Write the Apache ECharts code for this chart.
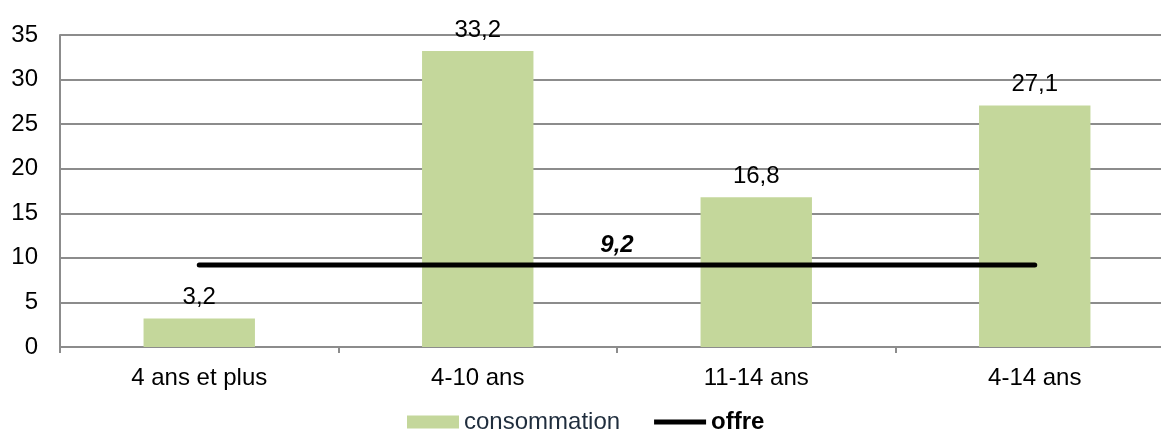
<!DOCTYPE html>
<html>
<head>
<meta charset="utf-8">
<script src="https://cdn.jsdelivr.net/npm/echarts@6/dist/echarts.min.js"></script>
<style>
  html, body { margin: 0; padding: 0; background: #fff; }
  #chart { width: 1161px; height: 431px; }
</style>
</head>
<body>
<div id="chart"></div>
<script>
var categories = ['4 ans et plus', '4-10 ans', '11-14 ans', '4-14 ans'];
var consommation = [3.2, 33.2, 16.8, 27.1];
var offre = [9.2, 9.2, 9.2, 9.2];
var yTicks = { min: 0, max: 35, interval: 5 };

(function() {
  var green = '#c4d79b';
  var grey = '#8c8c8c';
  var font = 'Liberation Sans, Arial, sans-serif';

  function fr(v) { return String(v).replace('.', ','); }

  var chart = echarts.init(document.getElementById('chart'), null, { renderer: 'canvas' });
  chart.setOption({
    animation: false,
    // plot area runs a little past the right edge of the window, as in the source
    grid: { left: 60, width: 1114, top: 35, bottom: 84, containLabel: false, outerBoundsMode: 'none' },
    legend: {
      top: 405,
      left: 402,
      itemWidth: 52,
      itemHeight: 13,
      itemGap: 34,
      textStyle: { fontFamily: font, fontSize: 24, color: '#1f2d3d' },
      data: [
        { name: 'consommation', icon: 'rect' },
        {
          name: 'offre',
          icon: 'path://M0,0 L52,0 L52,5 L0,5 Z',
          itemStyle: { color: '#000', borderWidth: 0 },
          textStyle: { fontWeight: 'bold', color: '#000' }
        }
      ]
    },
    xAxis: {
      type: 'category',
      data: categories,
      axisLine: { lineStyle: { color: grey, width: 2 } },
      axisTick: { show: true, alignWithLabel: false, length: 6, lineStyle: { color: grey, width: 2 } },
      axisLabel: { fontFamily: font, fontSize: 24, color: '#000', margin: 19, interval: 0 }
    },
    yAxis: {
      type: 'value',
      min: yTicks.min,
      max: yTicks.max,
      interval: yTicks.interval,
      axisLine: { show: true, lineStyle: { color: grey, width: 2 } },
      axisTick: { show: false },
      axisLabel: { fontFamily: font, fontSize: 24, color: '#000', margin: 22 },
      splitLine: { lineStyle: { color: grey, width: 2 } }
    },
    series: [
      {
        name: 'consommation',
        type: 'bar',
        data: consommation,
        barWidth: '40%',
        itemStyle: { color: green },
        label: {
          show: true,
          position: 'top',
          distance: 9,
          fontFamily: font,
          fontSize: 24,
          color: '#000',
          formatter: function(p) { return fr(p.value); }
        }
      },
      {
        name: 'offre',
        type: 'line',
        data: offre,
        symbol: 'none',
        lineStyle: { color: '#000', width: 5, cap: 'round' },
        itemStyle: { color: '#000' },
        markLine: {
          silent: true,
          symbol: 'none',
          lineStyle: { color: 'transparent', width: 0 },
          label: {
            show: true,
            position: 'middle',
            distance: 8,
            fontFamily: font,
            fontSize: 24,
            fontWeight: 'bold',
            fontStyle: 'italic',
            color: '#000',
            formatter: function() { return fr(offre[0]); }
          },
          data: [[{ coord: [0, offre[0]] }, { coord: [categories.length - 1, offre[offre.length - 1]] }]]
        }
      }
    ]
  });
})();
</script>
</body>
</html>
